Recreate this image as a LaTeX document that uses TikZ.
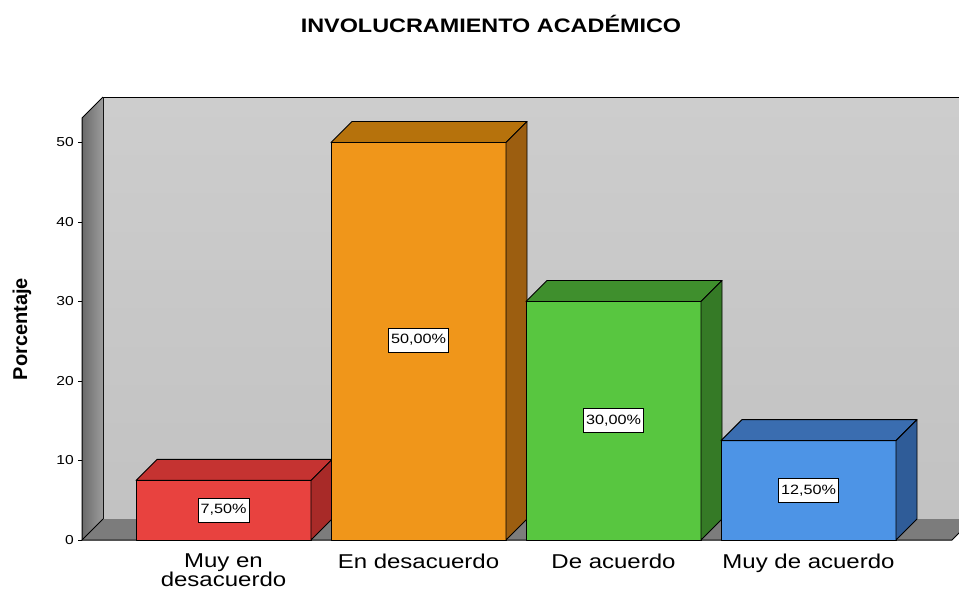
\documentclass[tikz,border=0pt]{standalone}
\usepackage{fontspec}
\newfontfamily\cf[FakeStretch=1.2]{Liberation Sans}
\newfontfamily\cfplain{Liberation Sans}
\definecolor{wallA}{HTML}{CDCDCD}
\definecolor{wallB}{HTML}{C2C2C2}
\definecolor{sideA}{HTML}{6A6A6A}
\definecolor{sideB}{HTML}{9C9C9C}
\definecolor{floorc}{HTML}{7C7C7C}
\definecolor{redF}{HTML}{E8423F}
\definecolor{redT}{HTML}{C53331}
\definecolor{redS}{HTML}{A82A28}
\definecolor{orF}{HTML}{F0961A}
\definecolor{orT}{HTML}{B6720C}
\definecolor{orS}{HTML}{9C5E10}
\definecolor{grF}{HTML}{58C640}
\definecolor{grT}{HTML}{3F8F2D}
\definecolor{grS}{HTML}{357A26}
\definecolor{blF}{HTML}{4D94E6}
\definecolor{blT}{HTML}{3A6DB0}
\definecolor{blS}{HTML}{2F5C98}
\newcommand\chartbar[5]{%
  \filldraw[barline, fill=#3] (#1,#2) rectangle ({#1+175},540);
  \filldraw[barline, fill=#4] (#1,#2) -- ({#1+21},{#2-21}) -- ({#1+196},{#2-21}) -- ({#1+175},#2) -- cycle;
  \filldraw[barline, fill=#5] ({#1+175},#2) -- ({#1+196},{#2-21}) -- ({#1+196},519) -- ({#1+175},540) -- cycle;}
\begin{document}
\begin{tikzpicture}[x=1pt,y=-1pt,
  barline/.style={draw=black, line width=0.9pt, line join=round},
  vallabel/.style={draw=black, fill=white, line width=0.7pt, inner xsep=2.5pt, inner ysep=0pt, minimum height=24pt, font=\cf\fontsize{13.5pt}{15pt}\selectfont},
  catlabel/.style={font=\cf\fontsize{20pt}{19pt}\selectfont, align=center, anchor=north},
  ticklabel/.style={font=\cf\fontsize{13pt}{15pt}\selectfont, anchor=east, inner sep=0pt},
  tickline/.style={draw=black, line width=0.6pt}]
\useasboundingbox (0,0) rectangle (959,590);
\fill[white] (0,0) rectangle (959,590);
% back wall
\shade[top color=wallA, bottom color=wallB] (103,97) rectangle (959,519);
\draw[black, line width=1pt] (959,97) -- (103,97) -- (103,519);
% left wall
\shade[left color=sideA, right color=sideB] (82,118) -- (103,97) -- (103,519) -- (82,540) -- cycle;
\draw[black, line width=1pt] (82,540) -- (82,118) -- (103,97);
% floor
\fill[floorc] (82,540) -- (103,519) -- (973,519) -- (952,540) -- cycle;
\draw[black, line width=1pt] (82,540) -- (952,540) -- (973,519);
\draw[black, line width=0.8pt] (103,519) -- (82,540);
% ticks
\foreach \v/\yy in {0/540,10/460.5,20/381,30/301.5,40/222,50/142.5}{
  \draw[tickline] (78,\yy) -- (82,\yy);
  \node[ticklabel] (t\v) at (74,\yy) {\v};
}
% bars
\chartbar{136}{480.4}{redF}{redT}{redS}
\chartbar{331}{142.5}{orF}{orT}{orS}
\chartbar{526}{301.5}{grF}{grT}{grS}
\chartbar{721}{440.6}{blF}{blT}{blS}
% value labels
\node[vallabel] (v1) at (223.5,510) {7,50\%};
\node[vallabel] (v2) at (418.5,340) {50,00\%};
\node[vallabel] (v3) at (613.5,420.5) {30,00\%};
\node[vallabel] (v4) at (808.5,490.5) {12,50\%};
% category labels
\node[catlabel] (c1) at (223.5,550) {Muy en\\desacuerdo};
\node[catlabel] (c2) at (418.5,550) {En desacuerdo};
\node[catlabel] (c3) at (613.5,550) {De acuerdo};
\node[catlabel] (c4) at (808.5,550) {Muy de acuerdo};
% axis title
\node[font=\cfplain\bfseries\fontsize{20pt}{22pt}\selectfont, rotate=90] (ylab) at (22,329) {Porcentaje};
% title
\node[font=\cf\bfseries\fontsize{19.5pt}{22pt}\selectfont] (title) at (491,23.5) {INVOLUCRAMIENTO ACADÉMICO};
\end{tikzpicture}
\end{document}
